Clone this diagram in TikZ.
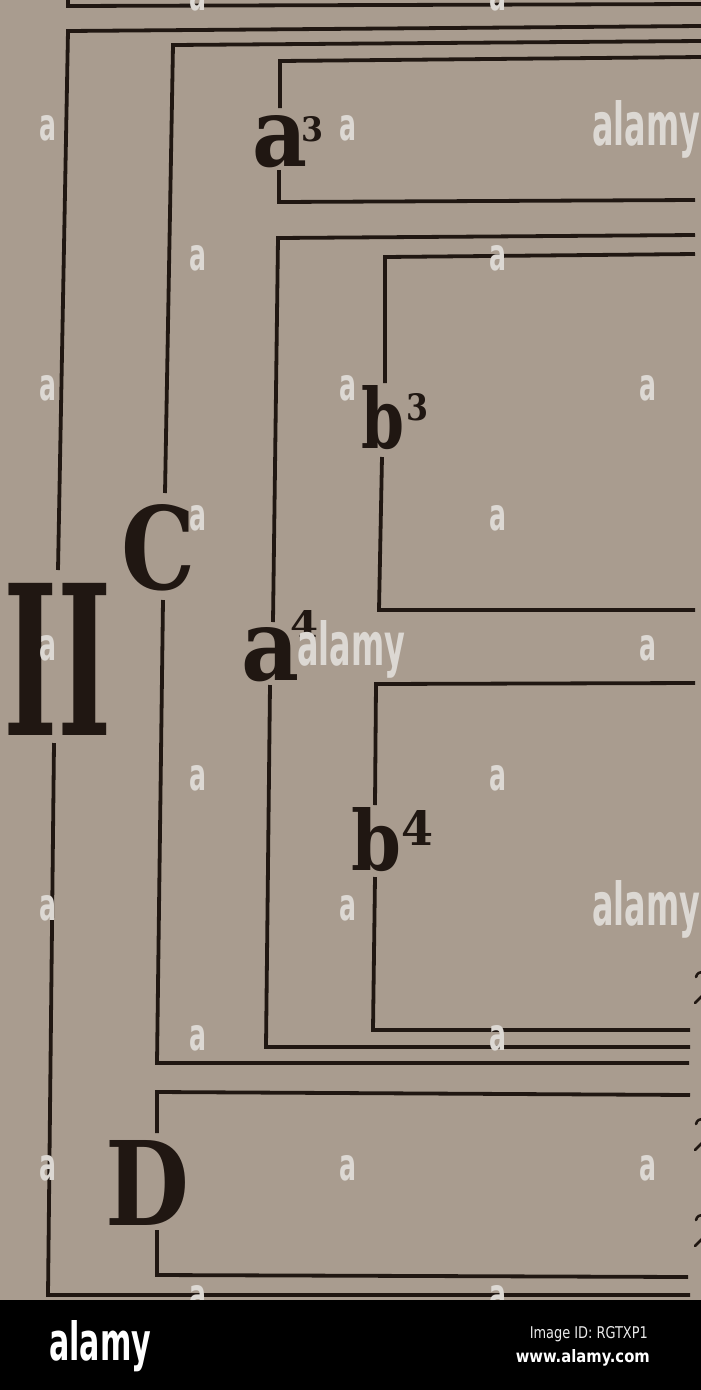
\documentclass[tikz,border=0pt]{standalone}
\usepackage{fontspec}
\usepackage{graphicx}
\newfontfamily\labfont{DejaVu Serif}
\newfontfamily\wmfont{DejaVu Sans Condensed}
\definecolor{paper}{RGB}{169,156,143}
\definecolor{ink}{RGB}{32,23,18}
\definecolor{wmcol}{RGB}{220,216,211}
\definecolor{bandtxt}{RGB}{235,235,235}
\tikzset{
  br/.style={draw=ink, line width=3.8pt, line join=miter},
  frag/.style={draw=ink, line width=2.6pt, line cap=round},
  lab/.style={inner sep=0pt, text=ink, font=\labfont\bfseries, anchor=base west},
  wm/.style={inner sep=0pt, text=wmcol, font=\wmfont\bfseries},
  wmword/.style={inner sep=0pt, text=wmcol, font=\wmfont\bfseries, anchor=base west},
}
\begin{document}
\begin{tikzpicture}[x=1pt,y=-1pt]
\useasboundingbox (0,0) rectangle (701,1390);
\fill[paper] (0,0) rectangle (701,1300);

% labels
\node[lab] (nII) at (3,735) {\resizebox{109pt}{152pt}{II}};
\node[lab] (nC) at (121,589) {\resizebox{74pt}{85pt}{C}};
\node[lab] (nD) at (105,1225) {\resizebox{84pt}{85pt}{D}};
\node[lab] (na3) at (252,166) {\resizebox{55pt}{51pt}{a}\hspace{-6pt}\raisebox{25pt}{\resizebox{22pt}{25pt}{3}}};
\node[lab] (na4) at (241,680) {\resizebox{58pt}{53pt}{a}\hspace{-9pt}\raisebox{43pt}{\resizebox{28pt}{27pt}{4}}};
\node[lab] (nb3) at (361,448) {\resizebox{43pt}{63pt}{b}\hspace{2pt}\raisebox{28pt}{\resizebox{22pt}{27pt}{3}}};
\node[lab] (nb4) at (351,870) {\resizebox{50pt}{63pt}{b}\raisebox{25pt}{\resizebox{32pt}{35pt}{4}}};

% fragments of cut-off figures at the right edge
\foreach \y in {983,1130,1226} {
  \draw[frag] (696,\y-6) .. controls (697,\y-10) and (700,\y-11) .. (702,\y-11);
  \draw[frag] (695,\y+20) -- (702,\y+13);
}

% bracket of the preceding group (bottom)
\draw[br] (68,-2) -- (68,6) -- (701,4);
% II
\draw[br] (701,26) -- (68,31) -- (58,570);
\draw[br] (54,743) -- (48,1295) -- (690,1295);
% C
\draw[br] (701,41) -- (173,45) -- (165,493);
\draw[br] (163,600) -- (157,1063) -- (689,1063);
% a3
\draw[br] (701,57) -- (280,61) -- (280,108);
\draw[br] (279,170) -- (279,202) -- (695,200);
% a4
\draw[br] (695,235) -- (278,238) -- (273,622);
\draw[br] (270,685) -- (266,1047) -- (690,1047);
% b3
\draw[br] (695,254) -- (385,257) -- (385,383);
\draw[br] (382,457) -- (379,610) -- (695,610);
% b4
\draw[br] (695,683) -- (376,684) -- (375,805);
\draw[br] (375,877) -- (373,1030) -- (690,1030);
% D
\draw[br] (690,1095) -- (157,1092) -- (157,1133);
\draw[br] (157,1230) -- (157,1275) -- (688,1277);

% watermarks
\foreach \i/\x/\y in {1/198/-2, 2/498/-2,
  3/48/128, 4/348/128,
  5/198/258, 6/498/258,
  7/48/388, 8/348/388, 9/648/388,
  10/198/518, 11/498/518,
  12/48/648, 13/648/648,
  14/198/778, 15/498/778,
  16/48/908, 17/348/908,
  18/198/1038, 19/498/1038,
  20/48/1168, 21/348/1168, 22/648/1168,
  23/198/1298, 24/498/1298}
  \node[wm] (w\i) at (\x,\y) {\resizebox{17pt}{25pt}{a}};
\node[wmword] (W1) at (592,145) {\resizebox{108pt}{45pt}{alamy}};
\node[wmword] (W2) at (297,665) {\resizebox{108pt}{45pt}{alamy}};
\node[wmword] (W3) at (592,925) {\resizebox{108pt}{45pt}{alamy}};

% bottom band
\fill[black] (0,1300) rectangle (701,1390);
\node[inner sep=0pt, anchor=base west, text=white, font=\wmfont\bfseries] (logo) at (49,1360) {\resizebox{102pt}{40pt}{alamy}};
\node[inner sep=0pt, anchor=base east, text=bandtxt, font=\wmfont] (imgid) at (648,1338) {\resizebox{118pt}{12pt}{Image ID: RGTXP1}};
\node[inner sep=0pt, anchor=base east, text=white, font=\wmfont\bfseries] (url) at (650,1362) {\resizebox{134pt}{13pt}{www.alamy.com}};
\end{tikzpicture}
\end{document}
